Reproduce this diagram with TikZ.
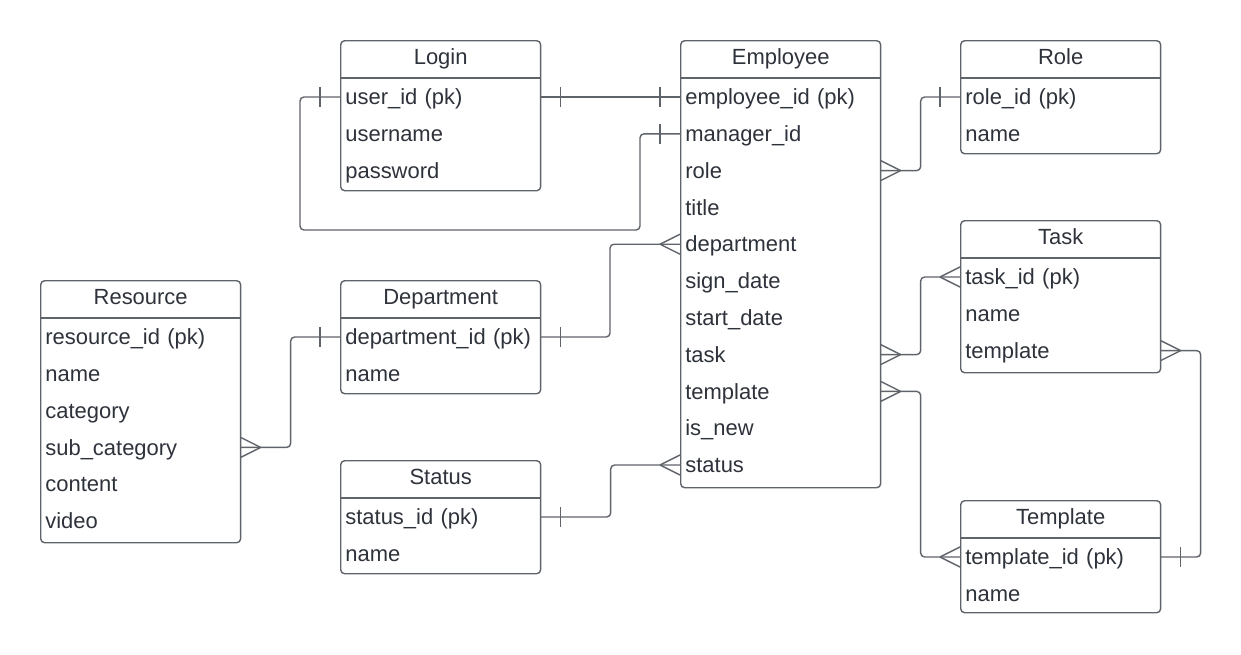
\documentclass[tikz,border=0pt]{standalone}
\usepackage{fontspec}
\setmainfont{Liberation Sans}
\usetikzlibrary{calc,positioning}
\definecolor{ink}{HTML}{2E323A}
\definecolor{wire}{HTML}{5F636A}
\tikzset{
  entbox/.style={draw=wire, line width=0.8pt, rounded corners=0.08cm, inner sep=0pt, minimum width=4cm},
  head/.style={text=ink, font=\fontsize{12.5}{15}\selectfont, text height=9pt, text depth=3pt},
  field/.style={text=ink, font=\fontsize{12.5}{15}\selectfont, text width=3.8cm, inner xsep=0.1cm, inner ysep=0pt,
    align=left, text height=10.4pt, text depth=1.6pt, anchor=west},
  link/.style={draw=wire, line width=0.8pt, rounded corners=0.08cm},
}
% entity: name, title, x, y, height, rows
\newcommand{\entity}[6]{%
  \node[entbox, minimum height=#5*0.02cm, anchor=north west] (#1) at (#3,#4) {};
  \draw[link] ($(#1.north west)+(0,38)$) -- ($(#1.north east)+(0,38)$);
  \node[head] (#1-head) at ($(#1.north)+(0,19)$) {#2};
  \foreach \k/\txt [count=\i] in {#6}
    \node[field] (#1-\k) at ($(#1.north west)+(0,57+36.8*\i-36.8)$) {\txt};
}
% ends: anchor, direction
\newcommand{\many}[2]{\draw[link] ($(#1)+(#2*20,0)$) -- ($(#1)+(0,-10)$) ($(#1)+(#2*20,0)$) -- ($(#1)+(0,10)$);}
\newcommand{\one}[2]{\draw[link] ($(#1)+(#2*20,-10)$) -- ($(#1)+(#2*20,10)$);}

\begin{document}
\begin{tikzpicture}[x=0.02cm, y=-0.02cm]
  \useasboundingbox (0,0) rectangle (1241,654);
  \entity{login}{Login}{340}{40}{150}{uid/user\_id (pk), uname/username, pwd/password}
  \entity{emp}{Employee}{680}{40}{447}{id/employee\_id (pk), mgr/manager\_id, role/role, title/title,
    dept/department, sign/sign\_date, start/start\_date, task/task, tpl/template, new/is\_new, status/status}
  \entity{role}{Role}{960}{40}{113}{id/role\_id (pk), name/name}
  \entity{task}{Task}{960}{220}{152}{id/task\_id (pk), name/name, tpl/template}
  \entity{tpl}{Template}{960}{500}{112}{id/template\_id (pk), name/name}
  \entity{res}{Resource}{40}{280}{262}{id/resource\_id (pk), name/name, cat/category, sub/sub\_category,
    content/content, video/video}
  \entity{dep}{Department}{340}{280}{113}{id/department\_id (pk), name/name}
  \entity{stat}{Status}{340}{460}{113}{id/status\_id (pk), name/name}

  % relations
  \draw[link] (login-uid.east) -- (emp-id.west);
  \one{login-uid.east}{1} \one{emp-id.west}{-1}

  \coordinate (loop) at (640,230);
  \draw[link] (login-uid.west) -- ++(-40,0) |- (loop) |- (emp-mgr.west);
  \one{login-uid.west}{-1} \one{emp-mgr.west}{-1}

  \draw[link] (emp-role.east) -- ++(40,0) |- (role-id.west);
  \many{emp-role.east}{1} \one{role-id.west}{-1}

  \draw[link] (emp-dept.west) -- ++(-70,0) |- (dep-id.east);
  \many{emp-dept.west}{-1} \one{dep-id.east}{1}

  \draw[link] (emp-task.east) -- ++(40,0) |- (task-id.west);
  \many{emp-task.east}{1} \many{task-id.west}{-1}

  \draw[link] (emp-tpl.east) -- ++(40,0) |- (tpl-id.west);
  \many{emp-tpl.east}{1} \many{tpl-id.west}{-1}

  \draw[link] (task-tpl.east) -- ++(40,0) |- (tpl-id.east);
  \many{task-tpl.east}{1} \one{tpl-id.east}{1}

  \draw[link] (res-sub.east) -- ++(50,0) |- (dep-id.west);
  \many{res-sub.east}{1} \one{dep-id.west}{-1}

  \draw[link] (stat-id.east) -- ++(70,0) |- (emp-status.west);
  \one{stat-id.east}{1} \many{emp-status.west}{-1}
\end{tikzpicture}
\end{document}
